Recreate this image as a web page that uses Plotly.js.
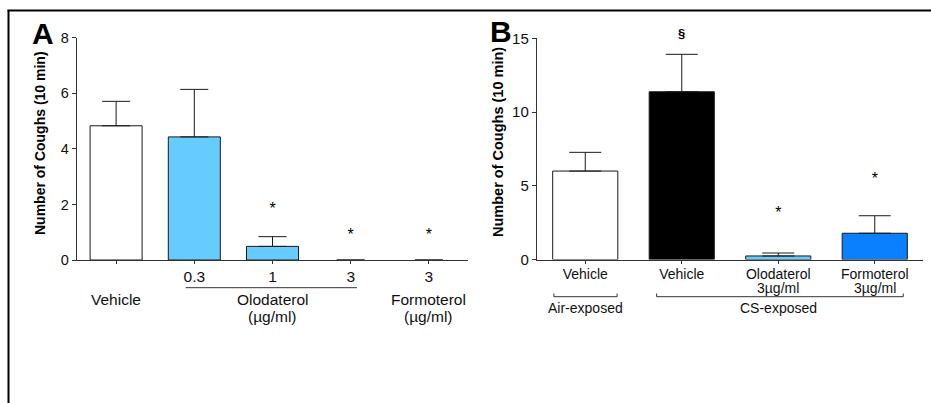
<!DOCTYPE html>
<html>
<head>
<meta charset="utf-8">
<script src="https://cdn.plot.ly/plotly-3.0.1.min.js"></script>
<style>html,body{margin:0;padding:0;background:#fff;}#chart{width:931px;height:403px;}</style>
</head>
<body>
<div id="chart"></div>
<script>
// ---------- DATA ----------
// Panel A
const A_positions   = [0, 1, 2, 3, 4];
const A_tickLabels  = ["", "0.3", "1", "3", "3"];
const A_means       = [4.83, 4.43, 0.49, 0, 0];
const A_sem         = [0.88, 1.71, 0.35, null, null];
const A_sigText     = ["", "", "*", "*", "*"];
const A_sigY        = [null, null, 1.81, 0.85, 0.85];
const A_groupLabels = [["Vehicle"], ["Olodaterol", "(µg/ml)"], ["Formoterol", "(µg/ml)"]];
const A_groupPos    = [0, 2, 4];
const A_yTicks      = [0, 2, 4, 6, 8];
const A_yRange      = [0, 8];

// Panel B
const B_positions   = [0, 1, 2, 3];
const B_tickLabels  = ["Vehicle", "Vehicle", "Olodaterol", "Formoterol"];
const B_subLabels   = ["", "", "3µg/ml", "3µg/ml"];
const B_means       = [6.0, 11.38, 0.24, 1.78];
const B_sem         = [1.27, 2.54, 0.20, 1.19];
const B_sigText     = ["", "§", "*", "*"];
const B_sigY        = [null, 15.35, 3.09, 5.39];
const B_groups      = ["Air-exposed", "CS-exposed"];
const B_groupCenters = [0, 2];
const B_yTicks      = [0, 5, 10, 15];
const B_yRange      = [0, 15];

// ---------- STYLE ----------
const FONT = "Liberation Sans, Arial, Helvetica, sans-serif";
const A_colors = ["#FFFFFF", "#66CCFF", "#66CCFF", "#66CCFF", "#66CCFF"];
const B_colors = ["#FFFFFF", "#000000", "#66CCFF", "#0A80FF"];
const W = 931, H = 403;
const px = v => v / W;          // x pixel -> paper
const py = v => 1 - v / H;      // y pixel -> paper
const AX = "#333333";
const EDGE = "#1a1a1a";

const traces = [
  {
    type: "bar", x: A_positions, y: A_means, xaxis: "x", yaxis: "y", width: 0.665,
    marker: {color: A_colors, line: {color: EDGE, width: A_means.map(v => v > 0 ? 1 : 0)}},
    error_y: {type: "data", array: A_sem, arrayminus: A_sem.map(() => 0), symmetric: false,
              color: EDGE, thickness: 1, width: 14},
    hoverinfo: "skip"
  },
  {
    type: "bar", x: B_positions, y: B_means, xaxis: "x2", yaxis: "y2", width: 0.675,
    marker: {color: B_colors, line: {color: EDGE, width: 1}},
    error_y: {type: "data", array: B_sem, arrayminus: B_sem.map(() => 0), symmetric: false,
              color: EDGE, thickness: 1, width: 16},
    hoverinfo: "skip"
  },
  {
    type: "scatter", mode: "text", x: A_positions, y: A_sigY, text: A_sigText, xaxis: "x", yaxis: "y",
    textposition: "middle center", cliponaxis: false,
    textfont: {family: FONT, size: 16, color: "#000"}, hoverinfo: "skip"
  },
  {
    type: "scatter", mode: "text", x: B_positions,
    y: B_sigY.map((v, i) => B_sigText[i] === "*" ? v : null),
    text: B_sigText.map(t => t === "*" ? t : ""), xaxis: "x2", yaxis: "y2",
    textposition: "middle center", cliponaxis: false,
    textfont: {family: FONT, size: 16, color: "#000"}, hoverinfo: "skip"
  }
];

const annotations = [];
const shapes = [];

// markers that sit above the axis range (drawn relative to the axis domain)
B_positions.forEach((p, i) => {
  if (B_sigText[i] && B_sigText[i] !== "*") {
    annotations.push({xref: "x2", yref: "y2 domain", x: p,
      y: (B_sigY[i] - B_yRange[0]) / (B_yRange[1] - B_yRange[0]), text: "<b>" + B_sigText[i] + "</b>",
      showarrow: false, yanchor: "middle", font: {family: FONT, size: 13, color: "#000"}});
  }
});

// panel A group labels
A_groupLabels.forEach((lines, gi) => {
  lines.forEach((t, li) => {
    annotations.push({xref: "x", yref: "paper", x: A_groupPos[gi], y: py(299 + li * 17), text: t,
      showarrow: false, yanchor: "middle", font: {family: FONT, size: 15.5, color: "#111"}});
  });
});
// panel B sub labels
B_positions.forEach((p, i) => {
  if (B_subLabels[i]) annotations.push({xref: "x2", yref: "paper", x: p, y: py(287.5), text: B_subLabels[i],
    showarrow: false, yanchor: "middle", font: {family: FONT, size: 14, color: "#111"}});
});
// panel B bracket group labels
B_groups.forEach((g, i) => {
  annotations.push({xref: "x2", yref: "paper", x: B_groupCenters[i], y: py(307.5), text: g,
    showarrow: false, yanchor: "middle", font: {family: FONT, size: 14, color: "#111"}});
});

// y titles
annotations.push({xref: "paper", yref: "paper", x: px(40), y: py(143), text: "<b>Number of Coughs (10 min)</b>",
  textangle: -90, showarrow: false, xanchor: "center", yanchor: "middle", font: {family: FONT, size: 14, color: "#000"}});
annotations.push({xref: "paper", yref: "paper", x: px(498), y: py(142), text: "<b>Number of Coughs (10 min)</b>",
  textangle: -90, showarrow: false, xanchor: "center", yanchor: "middle", font: {family: FONT, size: 14.5, color: "#000"}});

// panel letters
annotations.push({xref: "paper", yref: "paper", x: px(43), y: py(33), text: "<b>A</b>", showarrow: false,
  xanchor: "center", yanchor: "middle", font: {family: FONT, size: 30, color: "#000"}});
annotations.push({xref: "paper", yref: "paper", x: px(501), y: py(32), text: "<b>B</b>", showarrow: false,
  xanchor: "center", yanchor: "middle", font: {family: FONT, size: 30, color: "#000"}});

// brackets
shapes.push({type: "line", xref: "x", yref: "paper", x0: 0.89, x1: 3.08, y0: py(287.7), y1: py(287.7),
  line: {color: "#333", width: 1}});
[[-0.325, 0.33], [0.74, 3.295]].forEach(([a, b]) => {
  const yb = py(296.7), yt = py(293.5);
  shapes.push({type: "path", xref: "x2", yref: "paper",
    path: `M ${a} ${yt} L ${a} ${yb} L ${b} ${yb} L ${b} ${yt}`, line: {color: "#333", width: 1}});
});

// frame
shapes.push({type: "line", xref: "paper", yref: "paper", x0: px(7.5), x1: 1, y0: py(10.5), y1: py(10.5),
  line: {color: "#000", width: 2}});
shapes.push({type: "line", xref: "paper", yref: "paper", x0: px(8.5), x1: px(8.5), y0: py(10), y1: 0,
  line: {color: "#000", width: 2}});

const axisCommon = {showgrid: false, zeroline: false, showline: true, linecolor: AX, linewidth: 1.2,
  ticks: "outside", tickcolor: AX, tickwidth: 1, fixedrange: true};

const layout = {
  width: W, height: H, margin: {l: 0, r: 0, t: 0, b: 0},
  paper_bgcolor: "#fff", plot_bgcolor: "rgba(0,0,0,0)", showlegend: false,
  font: {family: FONT, color: "#111"},
  xaxis: Object.assign({}, axisCommon, {domain: [px(77), px(468)], range: [-0.5, 4.5], anchor: "y",
    tickvals: A_positions, ticktext: A_tickLabels, ticklen: 3, ticklabelstandoff: -1,
    tickfont: {family: FONT, size: 15.5, color: "#111"}}),
  yaxis: Object.assign({}, axisCommon, {domain: [py(260), py(37.7)], range: A_yRange, anchor: "x",
    tickvals: A_yTicks, ticklen: 4, tickfont: {family: FONT, size: 14.5, color: "#111"}}),
  xaxis2: Object.assign({}, axisCommon, {domain: [px(537), px(923)], range: [-0.5, 3.5], anchor: "y2",
    tickvals: B_positions, ticktext: B_tickLabels, ticklen: 3, ticklabelstandoff: -2,
    tickfont: {family: FONT, size: 14, color: "#111"}}),
  yaxis2: Object.assign({}, axisCommon, {domain: [py(259.5), py(38.4)], range: B_yRange, anchor: "x2",
    tickvals: B_yTicks, ticklen: 4, tickfont: {family: FONT, size: 15, color: "#111"}}),
  annotations: annotations, shapes: shapes
};

Plotly.newPlot("chart", traces, layout, {displayModeBar: false, staticPlot: true});
</script>
</body>
</html>
